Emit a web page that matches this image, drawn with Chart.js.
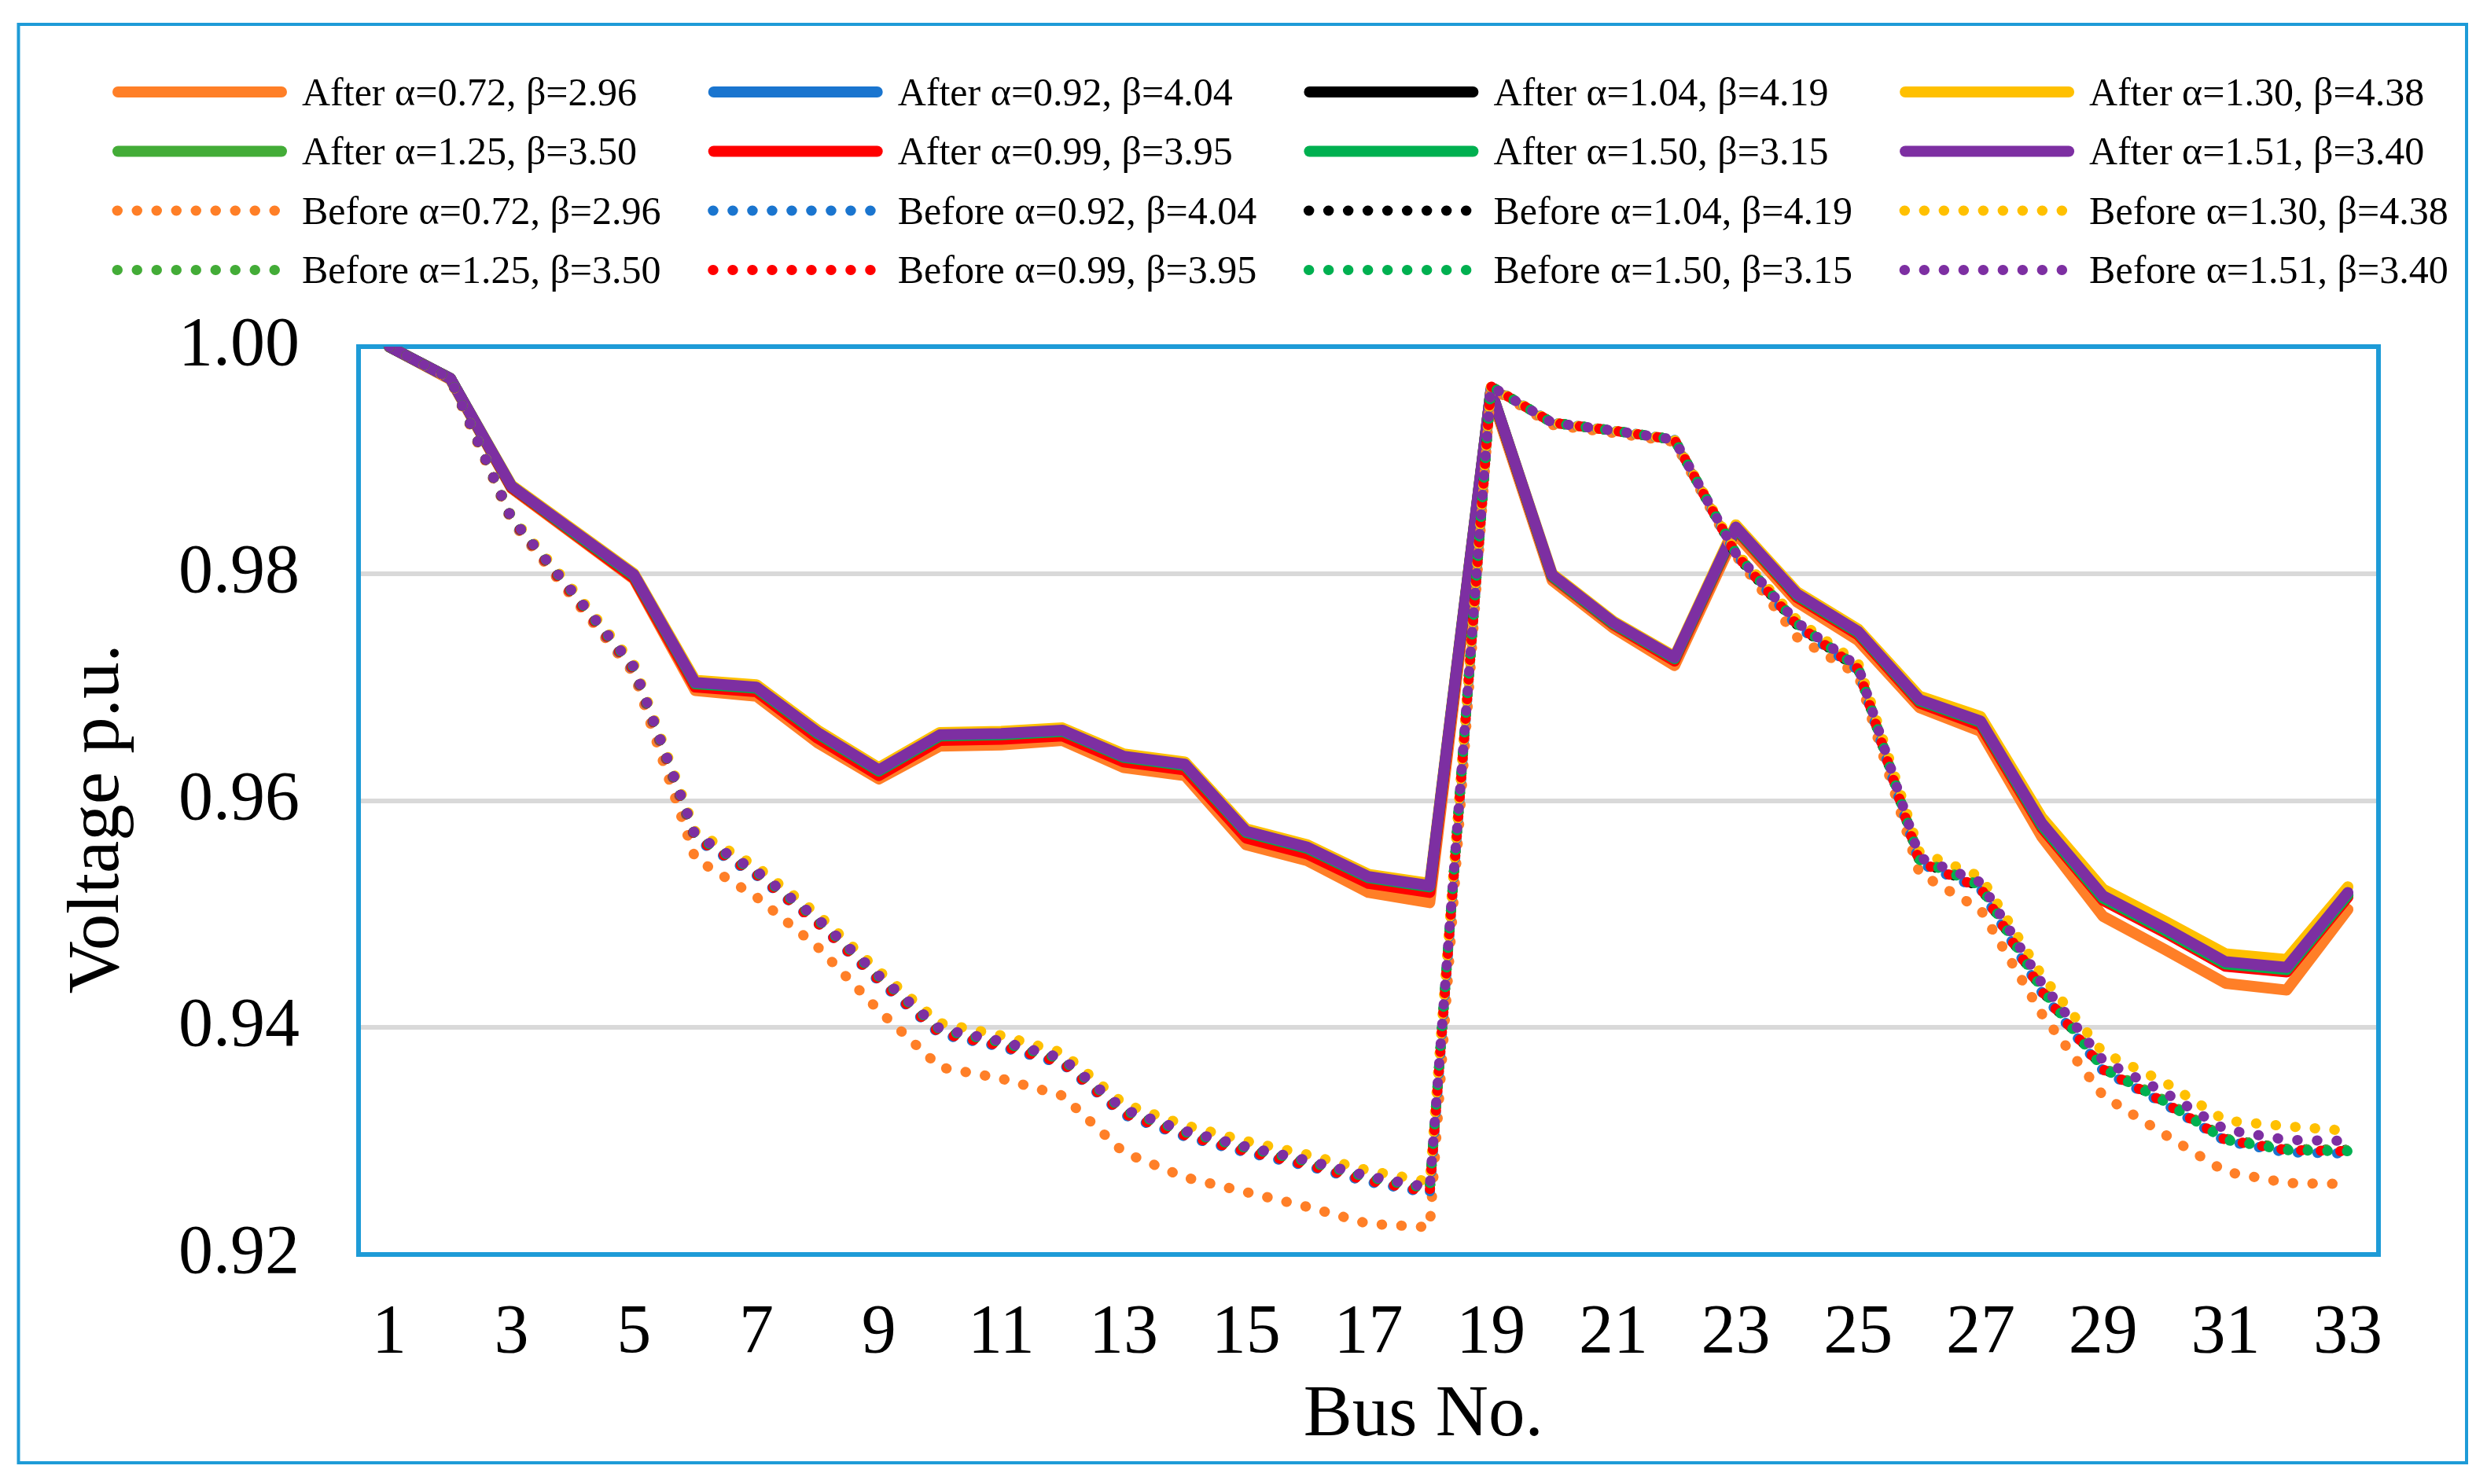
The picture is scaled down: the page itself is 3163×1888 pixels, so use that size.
<!DOCTYPE html>
<html>
<head>
<meta charset="utf-8">
<script src="https://cdn.jsdelivr.net/npm/chart.js@4.4.1/dist/chart.umd.min.js"></script>
<style>
  html, body { margin: 0; padding: 0; background: #ffffff; }
  #wrap { position: relative; width: 3163px; height: 1888px; }
</style>
</head>
<body>
<div id="wrap"><canvas id="c"></canvas></div>
<script>
// ---------------- DATA ----------------
const buses = ['1','2','3','4','5','6','7','8','9','10','11','12','13','14','15','16','17','18','19','20','21','22','23','24','25','26','27','28','29','30','31','32','33'];
const alphas = ['0.72','0.92','1.04','1.30','1.25','0.99','1.50','1.51'];
const betas  = ['2.96','4.04','4.19','4.38','3.50','3.95','3.15','3.40'];
const yTicks = [0.92, 0.94, 0.96, 0.98, 1.00];

// After (solid)
const after072 = [1.0000,0.9971,0.9875,0.9835,0.9795,0.9697,0.9692,0.9651,0.9619,0.9648,0.9649,0.9653,0.9629,0.9622,0.9561,0.9547,0.9519,0.9510,0.9958,0.9794,0.9752,0.9719,0.9835,0.9775,0.9741,0.9682,0.9661,0.9568,0.9498,0.9469,0.9439,0.9433,0.9504];
const after092 = [1.0000,0.9972,0.9876,0.9837,0.9797,0.9701,0.9697,0.9657,0.9624,0.9655,0.9656,0.9659,0.9636,0.9629,0.9570,0.9556,0.9530,0.9522,0.9961,0.9797,0.9755,0.9724,0.9839,0.9780,0.9747,0.9687,0.9667,0.9577,0.9513,0.9485,0.9455,0.9450,0.9516];
const after104 = [1.0000,0.9972,0.9876,0.9837,0.9798,0.9702,0.9698,0.9658,0.9625,0.9656,0.9657,0.9660,0.9637,0.9630,0.9571,0.9557,0.9531,0.9523,0.9961,0.9798,0.9756,0.9725,0.9840,0.9781,0.9748,0.9688,0.9669,0.9578,0.9514,0.9486,0.9456,0.9451,0.9517];
const after130 = [1.0000,0.9972,0.9878,0.9839,0.9800,0.9706,0.9702,0.9662,0.9629,0.9660,0.9661,0.9664,0.9641,0.9634,0.9575,0.9561,0.9535,0.9527,0.9962,0.9800,0.9758,0.9727,0.9843,0.9784,0.9751,0.9692,0.9674,0.9585,0.9522,0.9494,0.9465,0.9460,0.9524];
const after125 = [1.0000,0.9972,0.9876,0.9837,0.9798,0.9702,0.9698,0.9658,0.9625,0.9656,0.9657,0.9660,0.9637,0.9630,0.9571,0.9557,0.9531,0.9523,0.9961,0.9798,0.9756,0.9725,0.9840,0.9780,0.9747,0.9687,0.9668,0.9577,0.9513,0.9485,0.9455,0.9450,0.9516];
const after099 = [1.0000,0.9972,0.9876,0.9836,0.9796,0.9700,0.9696,0.9655,0.9622,0.9653,0.9654,0.9657,0.9634,0.9627,0.9567,0.9553,0.9527,0.9519,0.9961,0.9797,0.9755,0.9723,0.9839,0.9779,0.9746,0.9686,0.9666,0.9576,0.9512,0.9484,0.9454,0.9449,0.9515];
const after150 = [1.0000,0.9972,0.9877,0.9837,0.9798,0.9703,0.9699,0.9659,0.9626,0.9657,0.9658,0.9661,0.9638,0.9631,0.9572,0.9558,0.9532,0.9524,0.9962,0.9798,0.9756,0.9725,0.9840,0.9781,0.9748,0.9688,0.9669,0.9578,0.9514,0.9486,0.9456,0.9451,0.9517];
const after151 = [1.0000,0.9972,0.9877,0.9838,0.9799,0.9704,0.9700,0.9660,0.9627,0.9658,0.9659,0.9662,0.9639,0.9632,0.9573,0.9559,0.9533,0.9525,0.9962,0.9799,0.9757,0.9726,0.9841,0.9782,0.9749,0.9689,0.9670,0.9580,0.9516,0.9488,0.9458,0.9453,0.9519];

// Before (dotted)
const before072 = [1.0000,0.9971,0.9846,0.9779,0.9712,0.9549,0.9515,0.9471,0.9415,0.9365,0.9355,0.9340,0.9290,0.9268,0.9255,0.9242,0.9227,0.9224,0.9964,0.9931,0.9924,0.9916,0.9816,0.9744,0.9711,0.9536,0.9504,0.9412,0.9340,0.9306,0.9273,0.9263,0.9262];
const before092 = [1.0000,0.9972,0.9847,0.9781,0.9714,0.9566,0.9534,0.9492,0.9441,0.9394,0.9383,0.9368,0.9323,0.9304,0.9290,0.9278,0.9264,0.9254,0.9965,0.9933,0.9926,0.9918,0.9817,0.9754,0.9715,0.9545,0.9522,0.9431,0.9362,0.9333,0.9300,0.9290,0.9289];
const before104 = [1.0000,0.9972,0.9848,0.9782,0.9716,0.9568,0.9536,0.9494,0.9444,0.9397,0.9386,0.9371,0.9326,0.9307,0.9293,0.9281,0.9267,0.9257,0.9965,0.9933,0.9926,0.9918,0.9817,0.9755,0.9716,0.9547,0.9524,0.9433,0.9364,0.9335,0.9302,0.9293,0.9292];
const before130 = [1.0000,0.9972,0.9850,0.9786,0.9720,0.9573,0.9542,0.9500,0.9450,0.9404,0.9393,0.9378,0.9333,0.9314,0.9300,0.9288,0.9274,0.9264,0.9965,0.9933,0.9926,0.9918,0.9819,0.9759,0.9721,0.9555,0.9533,0.9446,0.9378,0.9352,0.9318,0.9313,0.9309];
const before125 = [1.0000,0.9972,0.9849,0.9783,0.9717,0.9569,0.9537,0.9495,0.9444,0.9397,0.9386,0.9371,0.9326,0.9307,0.9293,0.9281,0.9267,0.9257,0.9965,0.9933,0.9926,0.9918,0.9818,0.9756,0.9717,0.9548,0.9525,0.9434,0.9365,0.9336,0.9302,0.9293,0.9292];
const before099 = [1.0000,0.9972,0.9848,0.9781,0.9715,0.9567,0.9535,0.9492,0.9442,0.9395,0.9384,0.9369,0.9324,0.9305,0.9291,0.9279,0.9265,0.9255,0.9965,0.9933,0.9926,0.9918,0.9817,0.9755,0.9716,0.9546,0.9523,0.9432,0.9363,0.9334,0.9301,0.9292,0.9291];
const before150 = [1.0000,0.9972,0.9849,0.9783,0.9717,0.9569,0.9537,0.9495,0.9445,0.9398,0.9387,0.9372,0.9327,0.9308,0.9294,0.9282,0.9268,0.9258,0.9965,0.9933,0.9926,0.9918,0.9818,0.9756,0.9717,0.9548,0.9525,0.9434,0.9364,0.9335,0.9301,0.9292,0.9291];
const before151 = [1.0000,0.9972,0.9849,0.9784,0.9718,0.9570,0.9538,0.9496,0.9446,0.9399,0.9388,0.9373,0.9328,0.9309,0.9295,0.9283,0.9269,0.9259,0.9965,0.9933,0.9926,0.9918,0.9818,0.9757,0.9718,0.9550,0.9528,0.9439,0.9371,0.9343,0.9310,0.9301,0.9300];

const afterSeries  = [after072, after092, after104, after130, after125, after099, after150, after151];
const beforeSeries = [before072, before092, before104, before130, before125, before099, before150, before151];

// ---------------- STYLE ----------------
const colors = ['#FF7F27','#1A75CF','#000000','#FFC000','#43AC37','#FF0000','#00B050','#7D2FA2'];
const SERIF = '"Liberation Serif", "Times New Roman", serif';
const BLUE = '#1E9BD7';
const DOT = [0.5, 24.5];

const datasets = [];
afterSeries.forEach((arr, i) => datasets.push({
  label: 'After α=' + alphas[i] + ', β=' + betas[i],
  data: arr, borderColor: colors[i], backgroundColor: colors[i],
  borderWidth: 14, borderDash: [], borderCapStyle: 'round', borderJoinStyle: 'round',
  pointRadius: 0, pointHoverRadius: 0, tension: 0, fill: false
}));
beforeSeries.forEach((arr, i) => datasets.push({
  label: 'Before α=' + alphas[i] + ', β=' + betas[i],
  data: arr, borderColor: colors[i], backgroundColor: colors[i],
  borderWidth: 13, borderDash: DOT, borderCapStyle: 'round', borderJoinStyle: 'round',
  pointRadius: 0, pointHoverRadius: 0, tension: 0, fill: false
}));
// Excel-like drawing order: later series on top
datasets.forEach((d, i) => { d.order = datasets.length - 1 - i; });

// ---------------- PLUGINS ----------------
const frames = {
  id: 'frames',
  beforeDraw(chart) {
    const ctx = chart.ctx;
    ctx.save();
    ctx.fillStyle = '#ffffff';
    ctx.fillRect(0, 0, chart.width, chart.height);
    ctx.restore();
  },
  beforeDatasetsDraw(chart) {
    const {ctx, chartArea: a} = chart;
    ctx.save();
    ctx.strokeStyle = BLUE;
    ctx.lineWidth = 6;
    ctx.strokeRect(a.left, a.top, a.right - a.left, a.bottom - a.top);
    ctx.restore();
  },
  afterDraw(chart) {
    const ctx = chart.ctx;
    ctx.save();
    ctx.strokeStyle = BLUE;
    ctx.lineWidth = 4;
    ctx.strokeRect(23.5, 31, 3137 - 23.5, 1861 - 31);
    ctx.restore();
  }
};

const legendGrid = {
  id: 'legendGrid',
  afterDraw(chart) {
    const ctx = chart.ctx;
    ctx.save();
    chart.data.datasets.forEach((d, i) => {
      const col = i % 4, row = Math.floor(i / 4);
      const x = 143 + col * 757.7;
      const y = 117 + row * 75.5;
      const dotted = d.borderDash && d.borderDash.length > 0;
      ctx.strokeStyle = d.borderColor;
      ctx.lineCap = 'round';
      ctx.lineWidth = dotted ? 13 : 14;
      ctx.setLineDash(dotted ? d.borderDash : []);
      ctx.beginPath();
      if (dotted) { ctx.moveTo(x + 6, y); ctx.lineTo(x + 206.6, y); }
      else { ctx.moveTo(x + 7, y); ctx.lineTo(x + 215, y); }
      ctx.stroke();
      ctx.setLineDash([]);
      ctx.fillStyle = '#000000';
      ctx.font = '50px ' + SERIF;
      ctx.textAlign = 'left';
      ctx.textBaseline = 'alphabetic';
      ctx.fillText(d.label, x + 241, y + 16.5);
    });
    ctx.restore();
  }
};

// ---------------- CHART ----------------
new Chart(document.getElementById('c'), {
  type: 'line',
  data: { labels: buses, datasets: datasets },
  plugins: [frames, legendGrid],
  options: {
    responsive: true,
    maintainAspectRatio: false,
    animation: false,
    events: [],
    layout: { padding: { top: 441, right: 138, bottom: 0, left: 0 } },
    plugins: { legend: { display: false }, tooltip: { enabled: false }, title: { display: false } },
    scales: {
      x: {
        type: 'category',
        offset: true,
        grid: { display: false, drawTicks: false },
        border: { display: false },
        ticks: {
          autoSkip: false, maxRotation: 0, minRotation: 0,
          padding: 48, color: '#000000',
          font: { family: SERIF, size: 88 },
          callback: function(v, idx) { return idx % 2 === 0 ? buses[idx] : ''; }
        },
        title: {
          display: true, text: '      Bus No.', color: '#000000',
          font: { family: SERIF, size: 93 },
          padding: { top: 0, bottom: 31 }
        },
        afterFit(scale) { scale.height = 1888 - 1596; }
      },
      y: {
        min: yTicks[0], max: yTicks[yTicks.length - 1],
        grid: { color: '#D9D9D9', lineWidth: 6, drawTicks: false },
        border: { display: false },
        afterBuildTicks(scale) { scale.ticks = yTicks.map(v => ({ value: v })); },
        ticks: {
          padding: 75, color: '#000000',
          font: { family: SERIF, size: 88 },
          callback: v => Number(v).toFixed(2)
        },
        title: {
          display: true, text: 'Voltage p.u.  ', color: '#000000',
          font: { family: SERIF, size: 93 },
          padding: { top: 70, bottom: 0 }
        },
        afterFit(scale) { scale.width = 456; }
      }
    }
  }
});
</script>
</body>
</html>
